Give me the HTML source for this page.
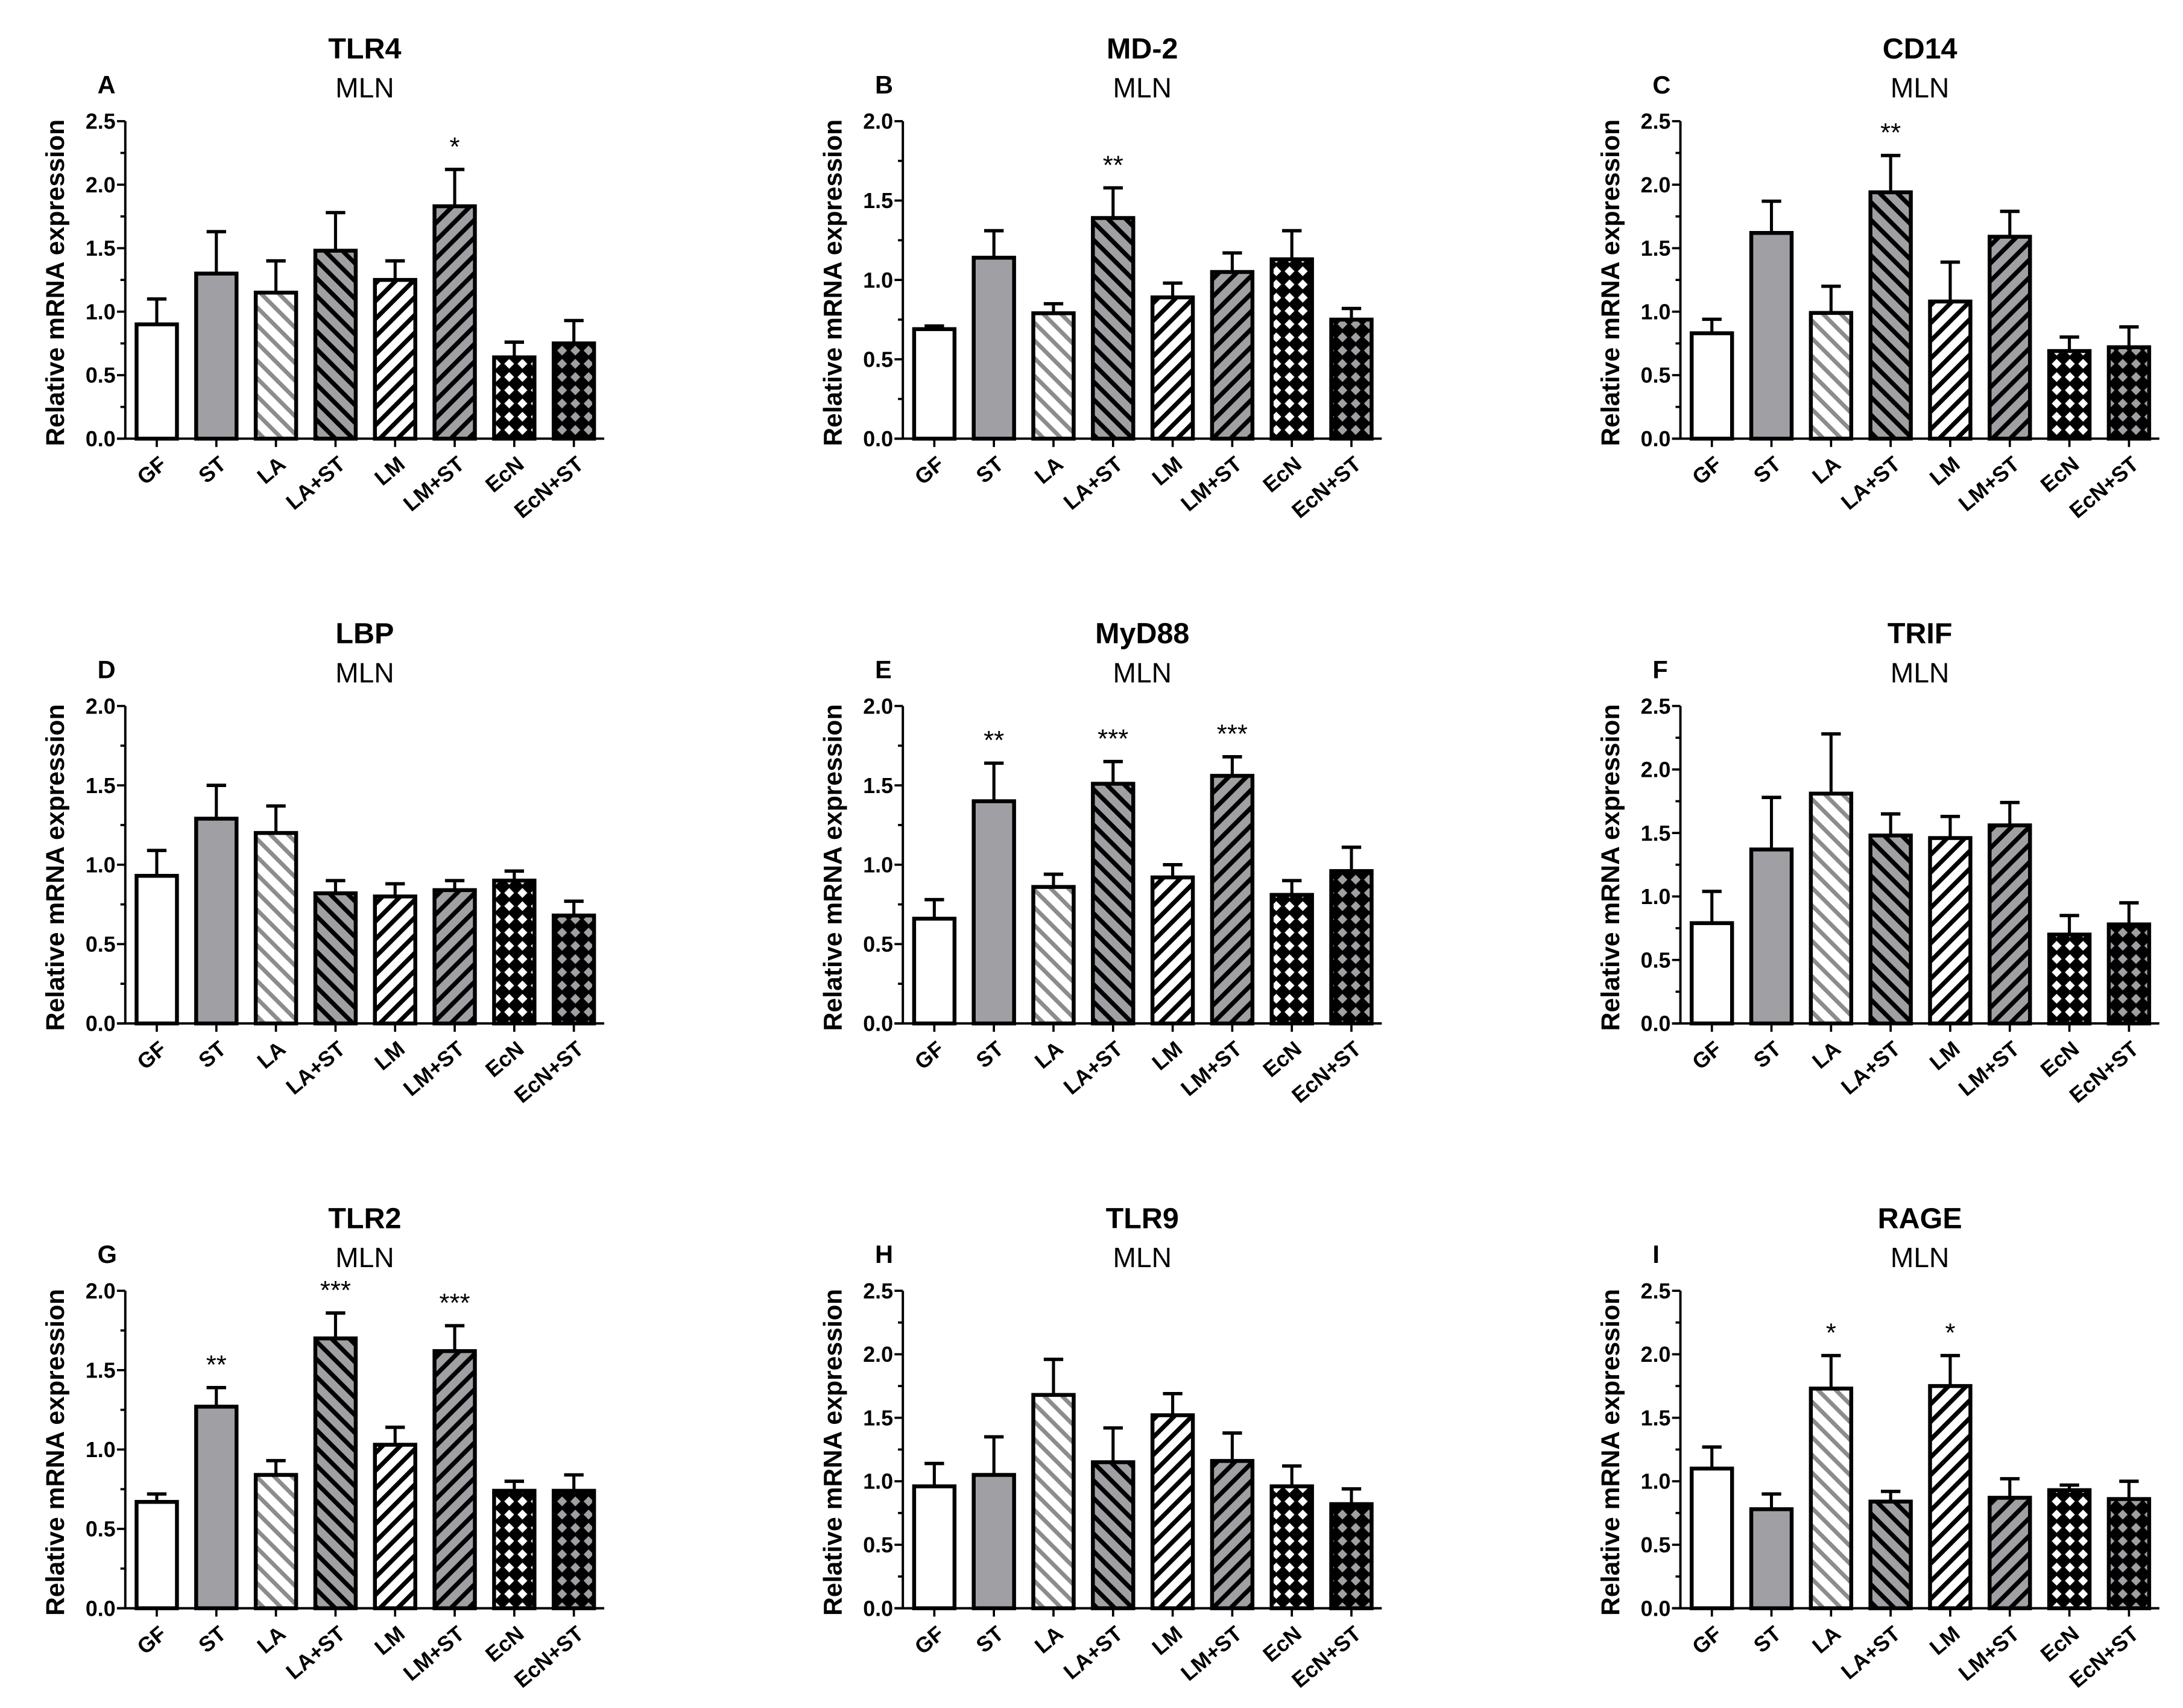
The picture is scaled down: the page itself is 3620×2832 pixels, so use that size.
<!DOCTYPE html>
<html><head><meta charset="utf-8"><style>
html,body{margin:0;padding:0;background:#fff}
svg{display:block}
text{font-family:"Liberation Sans",Arial,sans-serif}
</style></head><body>
<svg id="fig" width="3620" height="2832" viewBox="0 0 1568 1226.6" xmlns="http://www.w3.org/2000/svg">
<defs>
<pattern id="pLA" patternUnits="userSpaceOnUse" width="9" height="9" patternTransform="rotate(-45)"><rect width="9" height="9" fill="#fff"/><rect x="0" y="0" width="3" height="9" fill="#8c8c8c"/></pattern>
<pattern id="pLAST" patternUnits="userSpaceOnUse" width="9" height="9" patternTransform="rotate(-45)"><rect width="9" height="9" fill="#a0a0a4"/><rect x="0" y="0" width="3.2" height="9" fill="#000"/></pattern>
<pattern id="pLM" patternUnits="userSpaceOnUse" width="9" height="9" patternTransform="rotate(45)"><rect width="9" height="9" fill="#fff"/><rect x="0" y="0" width="3.2" height="9" fill="#000"/></pattern>
<pattern id="pLMST" patternUnits="userSpaceOnUse" width="9" height="9" patternTransform="rotate(45)"><rect width="9" height="9" fill="#a0a0a4"/><rect x="0" y="0" width="3.2" height="9" fill="#000"/></pattern>
<pattern id="pEcN" patternUnits="userSpaceOnUse" width="9.5" height="9.5"><rect width="9.5" height="9.5" fill="#000"/><polygon points="4.75,1.2 8.3,4.75 4.75,8.3 1.2,4.75" fill="#fff"/></pattern>
<pattern id="pEcNST" patternUnits="userSpaceOnUse" width="9.5" height="9.5"><rect width="9.5" height="9.5" fill="#000"/><polygon points="4.75,1.2 8.3,4.75 4.75,8.3 1.2,4.75" fill="#a0a0a4"/></pattern>
</defs>
</svg>
<script>
const categories = ["GF","ST","LA","LA+ST","LM","LM+ST","EcN","EcN+ST"];
const fills = ["#fff","#a0a0a4","url(#pLA)","url(#pLAST)","url(#pLM)","url(#pLMST)","url(#pEcN)","url(#pEcNST)"];
const panelTitles = ["TLR4","MD-2","CD14","LBP","MyD88","TRIF","TLR2","TLR9","RAGE"];
const panelLetters = ["A","B","C","D","E","F","G","H","I"];
const panelMax = [2.5,2.0,2.5,2.0,2.0,2.5,2.0,2.5,2.5];
const tlr4Mean = [0.9,1.3,1.15,1.48,1.25,1.83,0.64,0.75];
const tlr4Err  = [1.1,1.63,1.4,1.78,1.4,2.12,0.76,0.93];
const md2Mean = [0.69,1.14,0.79,1.39,0.89,1.05,1.13,0.75];
const md2Err  = [0.71,1.31,0.85,1.58,0.98,1.17,1.31,0.82];
const cd14Mean = [0.83,1.62,0.99,1.94,1.08,1.59,0.69,0.72];
const cd14Err  = [0.94,1.87,1.2,2.23,1.39,1.79,0.8,0.88];
const lbpMean = [0.93,1.29,1.2,0.82,0.8,0.84,0.9,0.68];
const lbpErr  = [1.09,1.5,1.37,0.9,0.88,0.9,0.96,0.77];
const myd88Mean = [0.66,1.4,0.86,1.51,0.92,1.56,0.81,0.96];
const myd88Err  = [0.78,1.64,0.94,1.65,1.0,1.68,0.9,1.11];
const trifMean = [0.79,1.37,1.81,1.48,1.46,1.56,0.7,0.78];
const trifErr  = [1.04,1.78,2.28,1.65,1.63,1.74,0.85,0.95];
const tlr2Mean = [0.67,1.27,0.84,1.7,1.03,1.62,0.74,0.74];
const tlr2Err  = [0.72,1.39,0.93,1.86,1.14,1.78,0.8,0.84];
const tlr9Mean = [0.96,1.05,1.68,1.15,1.52,1.16,0.96,0.82];
const tlr9Err  = [1.14,1.35,1.96,1.42,1.69,1.38,1.12,0.94];
const rageMean = [1.1,0.78,1.73,0.84,1.75,0.87,0.93,0.86];
const rageErr  = [1.27,0.9,1.99,0.92,1.99,1.02,0.97,1.0];
const tlr4Stars = ["","","","","","*","",""];
const md2Stars = ["","","","**","","","",""];
const cd14Stars = ["","","","**","","","",""];
const lbpStars = ["","","","","","","",""];
const myd88Stars = ["","**","","***","","***","",""];
const trifStars = ["","","","","","","",""];
const tlr2Stars = ["","**","","***","","***","",""];
const tlr9Stars = ["","","","","","","",""];
const rageStars = ["","","*","","*","","",""];
const means = [tlr4Mean,md2Mean,cd14Mean,lbpMean,myd88Mean,trifMean,tlr2Mean,tlr9Mean,rageMean];
const errs = [tlr4Err,md2Err,cd14Err,lbpErr,myd88Err,trifErr,tlr2Err,tlr9Err,rageErr];
const stars = [tlr4Stars,md2Stars,cd14Stars,lbpStars,myd88Stars,trifStars,tlr2Stars,tlr9Stars,rageStars];

const NS="http://www.w3.org/2000/svg";
const svg=document.getElementById('fig');
function mk(tag,attrs,parent){const e=document.createElementNS(NS,tag);for(const k in attrs)e.setAttribute(k,attrs[k]);(parent||svg).appendChild(e);return e;}

const colX=[90,648.5,1207], rowY=[315,735,1155], plotH=228, axisLen=344, firstOff=22.6, step=42.8, bw=29;

for(let p=0;p<9;p++){
  const x0=colX[p%3], base=rowY[Math.floor(p/3)], top=base-plotH, max=panelMax[p];
  const y=v=>base-v/max*plotH;
  const xc=i=>x0+firstOff+i*step;
  const g=mk('g',{});
  
  
  const cx=x0+172;
  let t=mk('text',{x:cx,y:top-45,'text-anchor':'middle','font-size':21,'font-weight':'bold'},g);t.textContent=panelTitles[p];
  
  t=mk('text',{x:cx,y:top-17,'text-anchor':'middle','font-size':20},g);t.textContent='MLN';
  
  t=mk('text',{x:x0-20,y:top-20,'font-size':18,'font-weight':'bold'},g);t.textContent=panelLetters[p];
  
  t=mk('text',{x:0,y:0,'text-anchor':'middle','font-size':18.5,'font-weight':'bold',transform:`translate(${x0-44},${base-plotH/2+2}) rotate(-90)`},g);
  t.textContent='Relative mRNA expression';
  
  for(let i=0;i<8;i++){
    const bx=xc(i)-bw/2, by=y(means[p][i]);
    const eb=mk('line',{x1:xc(i),x2:xc(i),y1:by,y2:y(errs[p][i]),stroke:'#000','stroke-width':2.2},g);
    
    mk('line',{x1:xc(i)-7,x2:xc(i)+7,y1:y(errs[p][i]),y2:y(errs[p][i]),stroke:'#000','stroke-width':2.4},g);
    const r=mk('rect',{x:bx,y:by,width:bw,height:base-by,fill:fills[i],stroke:'#000','stroke-width':2.8},g);
    
    
    if(stars[p][i]){
      const s=mk('text',{x:xc(i),y:y(errs[p][i])-10,'text-anchor':'middle','font-size':19},g);s.textContent=stars[p][i];
      
    }
    mk('line',{x1:xc(i),x2:xc(i),y1:base,y2:base+6,stroke:'#000','stroke-width':1.6},g);
    const lb=mk('text',{x:0,y:0,'text-anchor':'end','font-size':15.5,'font-weight':'bold',transform:`translate(${xc(i)+8},${base+20}) rotate(-40)`},g);
    lb.textContent=categories[i];
    
  }
  const ya=mk('line',{x1:x0,x2:x0,y1:top,y2:base,stroke:'#000','stroke-width':1.7},g);
  
  const xa=mk('line',{x1:x0-6,x2:x0+axisLen,y1:base,y2:base,stroke:'#000','stroke-width':1.7},g);
  
  for(let v=0;v<=max+1e-9;v+=0.25){
    const major=Math.abs(v*2-Math.round(v*2))<1e-6;
    mk('line',{x1:x0-(major?6:3.5),x2:x0,y1:y(v),y2:y(v),stroke:'#000','stroke-width':1.6},g);
    if(major){
      const tl=mk('text',{x:x0-7,y:y(v)+5.5,'text-anchor':'end','font-size':15.5,'font-weight':'bold'},g);
      tl.textContent=v.toFixed(1);
      
    }
  }
}
</script>
</body></html>
